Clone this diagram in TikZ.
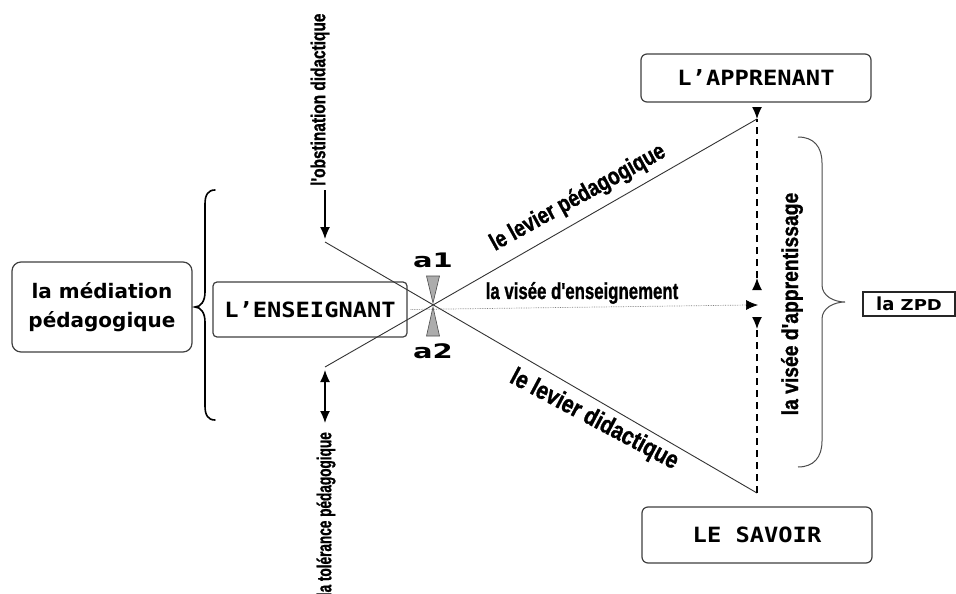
\documentclass[tikz,border=0pt]{standalone}
\usepackage{fontspec}
\usepackage{graphicx}
\setmainfont{DejaVu Sans}
\newfontfamily\narrowfont[BoldFeatures={FakeBold=1.2}]{Liberation Sans}
\newfontfamily\monofont{DejaVu Sans Mono}
\usetikzlibrary{arrows.meta}
\newcommand\nartext[3]{\scalebox{#1}[1]{\narrowfont\bfseries\fontsize{#2}{#2}\selectfont #3}}
\newcommand\montext[1]{\scalebox{1.13}[1]{\monofont\bfseries\fontsize{21}{24}\selectfont #1}}
\begin{document}
\begin{tikzpicture}[x=1pt,y=-1pt,
  box/.style={draw=black!75, line width=1.2pt, rounded corners=6pt, fill=white, inner sep=0pt, align=center},
  lbl/.style={inner sep=0pt},
  ln/.style={draw=black!80, line width=0.9pt},
  arr/.style={line width=1.3pt, -{Latex[length=12pt,width=10pt]}},
  darr/.style={line width=1.3pt, {Latex[length=12pt,width=10pt]}-{Latex[length=12pt,width=10pt]}},
  dsh/.style={line width=1.3pt, dash pattern=on 7pt off 5pt},
  hour/.style={fill=gray!65, draw=black!70, line width=0.6pt},
  brc/.style={line width=1.6pt, line cap=round}
]
\useasboundingbox (0,0) rectangle (956,594);
\fill[white] (0,0) rectangle (956,594);

% boxes
\node[box, minimum width=180pt, minimum height=90pt, rounded corners=9pt,
      font=\bfseries\fontsize{20}{29}\selectfont] (med) at (102,307) {la médiation\\pédagogique};
\node[box, minimum width=194pt, minimum height=55pt, rounded corners=4pt] (ens) at (310,309.5) {\montext{L’ENSEIGNANT}};
\node[box, minimum width=230pt, minimum height=48pt] (app) at (756,78) {\montext{L’APPRENANT}};
\node[box, minimum width=230pt, minimum height=56pt] (sav) at (757,535) {\montext{LE SAVOIR}};
\node[draw=black!85, line width=1.1pt, minimum width=92pt, minimum height=24pt, inner sep=0pt] (zpd) at (909,304)
  {\bfseries\fontsize{18}{18}\selectfont la \scalebox{1.2}[1]{\fontsize{15}{15}\selectfont ZPD}};

% key points
\coordinate (tl) at (325,242);
\coordinate (br) at (757,493);
\coordinate (bl) at (325,367);
\coordinate (tr) at (757,119);
\coordinate (vt) at (758,305);
\coordinate (u2) at (757,278);
\coordinate (l2) at (757,329);
\coordinate (oa) at (325,190);
\coordinate (ob) at (325,239);
\coordinate (ta) at (325,370);
\coordinate (tb) at (325,423);

% lever lines
\draw[ln] (tl) -- (br);
\draw[ln] (bl) -- (tr);

% visée d'enseignement
\draw[densely dotted, draw=gray, line width=0.7pt] (ens.east) ++(3,0) -- ([xshift=-9pt]vt);
\draw[line width=0.7pt, -{Latex[length=12pt,width=10pt]}] ([xshift=-10pt]vt) -- (vt);

% dashed arrows
\draw[dsh] (u2) -- (tr);
\draw[line width=1.3pt, -{Latex[length=12pt,width=10pt]}] ([yshift=8pt]tr) -- (tr);
\draw[line width=1.3pt, -{Latex[length=12pt,width=10pt]}] ([yshift=-8pt]u2) -- (u2);
\draw[dsh] (br) -- (l2);
\draw[line width=1.3pt, -{Latex[length=12pt,width=10pt]}] ([yshift=8pt]l2) -- (l2);

% obstination / tolérance arrows
\draw[arr] (oa) -- (ob);
\draw[darr] (ta) -- (tb);

% hourglass
\draw[hour] (426.5,276) -- (439.5,276) -- (433,303) -- cycle;
\draw[hour] (426.5,336) -- (439.5,336) -- (433,307) -- cycle;
\node[lbl] (a1) at (433,260) {\scalebox{1.45}[1]{\bfseries\fontsize{20}{20}\selectfont a1}};
\node[lbl] (a2) at (433,351) {\scalebox{1.45}[1]{\bfseries\fontsize{20}{20}\selectfont a2}};

% labels
\node[lbl, rotate=90, anchor=west] (obst) at (320,186) {\nartext{0.77}{20}{l'obstination didactique}};
\node[lbl, rotate=90, anchor=east] (tol) at (326,432) {\nartext{0.68}{20}{la tolérance pédagogique}};
\node[lbl, rotate=29] (levp) at (578,198) {\nartext{0.8}{24}{le levier pédagogique}};
\node[lbl, rotate=-28] (levd) at (594,420) {\nartext{0.83}{25}{le levier didactique}};
\node[lbl] (vens) at (582,293) {\nartext{0.73}{23}{la visée d'enseignement}};
\node[lbl, rotate=90] (vapp) at (792,304) {\nartext{0.84}{23}{la visée d'apprentissage}};

% left brace
\draw[brc] (215,190) .. controls (208,190) and (205,195) .. (205,204) -- (205,292)
  .. controls (205,301) and (201,307) .. (195,307)
  .. controls (201,307) and (205,313) .. (205,322) -- (205,406)
  .. controls (205,415) and (208,420) .. (215,420);

% right brace
\draw[line width=1pt, draw=black!70] (798,137) .. controls (814,137) and (822,147) .. (822,163) -- (822,285)
  .. controls (822,296) and (834,302) .. (845,302)
  .. controls (834,302) and (822,308) .. (822,319) -- (822,441)
  .. controls (822,457) and (814,467) .. (798,467);
\end{tikzpicture}
\end{document}
